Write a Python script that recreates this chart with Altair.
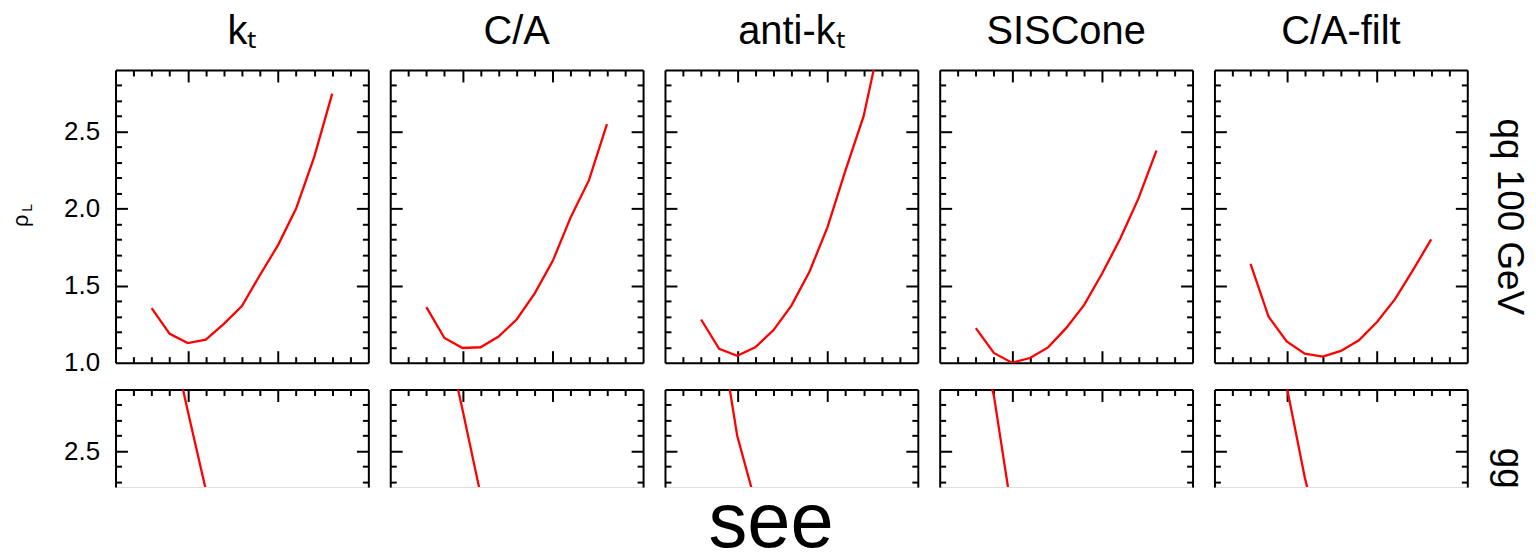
import altair as alt
import pandas as pd

# ---------------- data ----------------
R = [0.3, 0.4, 0.5, 0.6, 0.7, 0.8, 0.9, 1.0, 1.1, 1.2, 1.3]
R_gg = [0.3, 0.4, 0.5, 0.6, 0.7]
algorithms = ["kₜ", "C/A", "anti-kₜ", "SISCone", "C/A-filt"]

qq_kt = [1.354, 1.187, 1.127, 1.149, 1.252, 1.368, 1.569, 1.763, 2.000, 2.334, 2.747]
qq_ca = [1.36, 1.16, 1.095, 1.10, 1.17, 1.28, 1.45, 1.661, 1.946, 2.183, 2.549]
qq_akt = [1.28, 1.09, 1.045, 1.10, 1.21, 1.37, 1.59, 1.88, 2.25, 2.60, 3.14]
qq_sis = [1.224, 1.063, 1.0, 1.03, 1.099, 1.224, 1.375, 1.58, 1.806, 2.065, 2.377]
qq_filt = [1.641, 1.298, 1.138, 1.058, 1.039, 1.076, 1.145, 1.264, 1.412, 1.602, 1.80]

gg_kt = [3.9, 3.30, 2.76, 2.25, 1.95]
gg_ca = [3.9, 3.30, 2.77, 2.22, 1.90]
gg_akt = [4.2, 3.33, 2.60, 2.17, 1.85]
gg_sis = [3.3, 2.86, 2.10, 1.75, 1.55]
gg_filt = [4.3, 3.55, 2.92, 2.33, 1.85]

qq_series = [qq_kt, qq_ca, qq_akt, qq_sis, qq_filt]
gg_series = [gg_kt, gg_ca, gg_akt, gg_sis, gg_filt]

x_domain = [0.1, 1.5]
x_major = [0.5, 1.0]
x_minor = [0.2, 0.3, 0.4, 0.6, 0.7, 0.8, 0.9, 1.1, 1.2, 1.3, 1.4]
qq_y_domain = [1.0, 2.9]
gg_y_domain = [2.2665, 2.9]
qq_y_labels = [1.0, 1.5, 2.0, 2.5]
qq_y_major = [1.5, 2.0, 2.5]
qq_y_minor = [1.1, 1.2, 1.3, 1.4, 1.6, 1.7, 1.8, 1.9, 2.1, 2.2, 2.3, 2.4, 2.6, 2.7, 2.8]
gg_y_labels = [2.5]
gg_y_major = [2.5]
gg_y_minor = [2.3, 2.4, 2.6, 2.7, 2.8]

rows = []
for alg, vals in zip(algorithms, qq_series):
    for r, v in zip(R, vals):
        rows.append({"alg": alg, "proc": "qq", "R": r, "rho": v})
for alg, vals in zip(algorithms, gg_series):
    for r, v in zip(R_gg, vals):
        rows.append({"alg": alg, "proc": "gg", "R": r, "rho": v})
df = pd.DataFrame(rows)

FONT = "Liberation Sans"
BLACK = "#000000"
W, H_QQ, H_GG = 254, 294, 98


def ax(orient, **kw):
    d = dict(orient=orient, grid=False, domainColor=BLACK, domainWidth=2,
             tickColor=BLACK, tickWidth=2, labelColor=BLACK, labelFont=FONT,
             titleFont=FONT, titleColor=BLACK, titleFontWeight="normal",
             title=None)
    d.update(kw)
    return alt.Axis(**d)


def tick_axis(orient, values, size):
    return ax(orient, domain=False, labels=False, values=values,
              tickSize=size, offset=-size)


def panel(i, proc):
    alg = algorithms[i]
    qq = proc == "qq"
    sub = df[(df.alg == alg) & (df.proc == proc)]
    xs = alt.Scale(domain=x_domain, nice=False, zero=False)
    ys = alt.Scale(domain=qq_y_domain if qq else gg_y_domain, nice=False, zero=False)
    y_labels = qq_y_labels if qq else gg_y_labels
    y_major = qq_y_major if qq else gg_y_major
    y_minor = qq_y_minor if qq else gg_y_minor
    base = alt.Chart(sub)

    def lay(xa, ya, show=False):
        mk = base.mark_line(clip=True, color="#ff0000", strokeWidth=2.3,
                            strokeOpacity=1 if show else 0)
        return mk.encode(x=alt.X("R:Q", scale=xs, axis=xa),
                         y=alt.Y("rho:Q", scale=ys, axis=ya))

    # frame layer 1: bottom + left (with tick labels)
    left_kw = dict(domain=True, ticks=False, tickSize=0, labels=(i == 0),
                   values=y_labels, format=".1f", labelFontSize=26,
                   labelPadding=16)
    if i == 0 and qq:
        left_kw.update(title="ρ", titleFontSize=22, titleAngle=270,
                       titleAlign="center", titleBaseline="alphabetic",
                       titleX=-88, titleY=151)
    bottom_kw = dict(domain=qq, ticks=False, tickSize=0, labels=False)
    if (not qq) and i == 2:
        bottom_kw.update(title="see", titleFontSize=78, titleAlign="center",
                         titleBaseline="alphabetic", titleX=106, titleY=60)
    f1 = lay(ax("bottom", **bottom_kw), ax("left", **left_kw))

    # frame layer 2: top + right (with row label)
    right_kw = dict(domain=True, ticks=False, tickSize=0, labels=False)
    if i == 4:
        if qq:
            right_kw.update(title="qq 100 GeV", titleFontSize=37, titleAngle=90,
                            titleAlign="center", titleBaseline="alphabetic",
                            titleX=30, titleY=147)
        else:
            right_kw.update(title="gg", titleFontSize=37, titleAngle=90,
                            titleAlign="left", titleBaseline="alphabetic",
                            titleX=30, titleY=58)
    f2 = lay(ax("top", domain=True, ticks=False, tickSize=0, labels=False),
             ax("right", **right_kw))

    # tick layers (inward ticks)
    left_minor = tick_axis("left", y_minor, 6)
    if i == 0 and qq:
        left_minor = ax("left", domain=False, labels=False, values=y_minor,
                        tickSize=6, offset=-6, title="L", titleFontSize=14,
                        titleAngle=270, titleAlign="center",
                        titleBaseline="alphabetic", titleX=-90, titleY=138)
    t1 = lay(tick_axis("bottom", x_major, 12) if qq else None,
             tick_axis("left", y_major, 12))
    t2 = lay(tick_axis("bottom", x_minor, 6) if qq else None, left_minor)
    t3 = lay(tick_axis("top", x_major, 12), tick_axis("right", y_major, 12))
    t4 = lay(tick_axis("top", x_minor, 6), tick_axis("right", y_minor, 6))

    line = lay(None, None, show=True)

    ch = alt.layer(f1, f2, t1, t2, t3, t4, line).resolve_axis(
        x="independent", y="independent")
    props = dict(width=W, height=H_QQ if qq else H_GG)
    if qq:
        props["title"] = alt.TitleParams(text=alg, fontSize=40, font=FONT,
                                         fontWeight="normal", color=BLACK,
                                         anchor="middle", frame="group",
                                         baseline="alphabetic", offset=-15)
    return ch.properties(**props)


panels = [panel(i, "qq") for i in range(5)] + [panel(i, "gg") for i in range(5)]

chart = alt.concat(*panels, columns=5, bounds="flush",
                   spacing=alt.RowColnumber(row=27, column=22)).properties(
    padding={"left": 1, "top": 2, "right": 0, "bottom": 0}
).configure_view(stroke=None).configure(background="white")

chart.save("out.html", embed_options={"renderer": "svg", "actions": False})
